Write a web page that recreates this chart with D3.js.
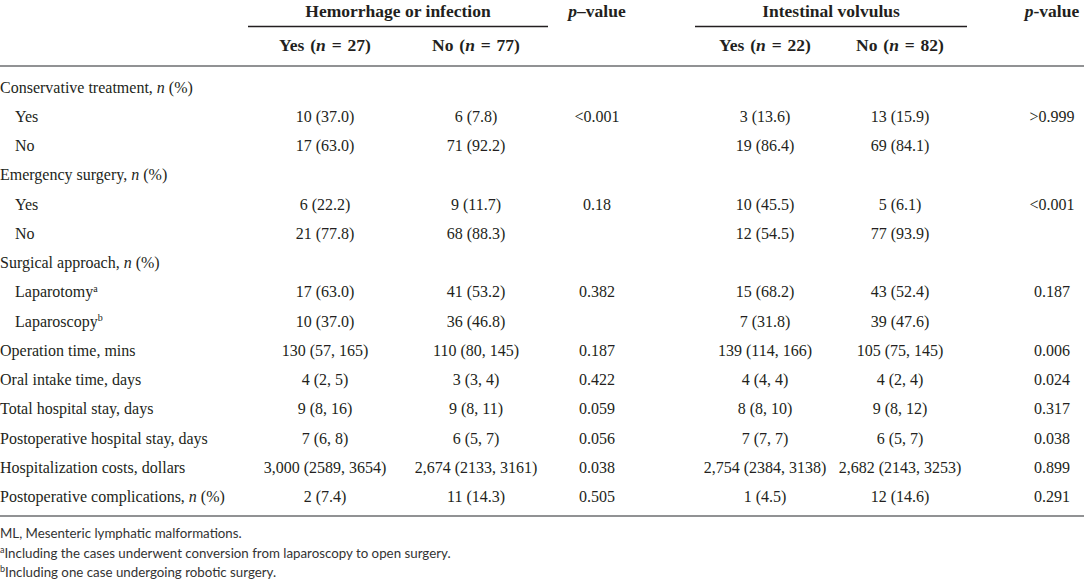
<!DOCTYPE html>
<html lang="en">
<head>
    <meta charset="UTF-8">
    <title>ML complications table</title>
    <script src="https://d3js.org/d3.v7.min.js"></script>
    <style>
        body {
            margin: 0;
            padding: 0;
            background-color: #fff;
        }
        svg text {
            fill: #231f20;
        }
        .cell {
            font-family: "Liberation Serif", "Times New Roman", serif;
            font-size: 16px;
        }
        .head {
            font-family: "Liberation Serif", "Times New Roman", serif;
            font-size: 17.5px;
            font-weight: bold;
        }
        .note {
            font-family: Lato, "Open Sans", sans-serif;
            font-size: 13.3px;
            fill: #333;
        }
    </style>
</head>
<body>
    <svg id="table" width="1084" height="584"></svg>

    <script>
        // row labels ("n" in the labels is set in italics when drawn)
        const rowLabels = [
            "Conservative treatment, n (%)", "Yes", "No",
            "Emergency surgery, n (%)", "Yes", "No",
            "Surgical approach, n (%)", "Laparotomy", "Laparoscopy",
            "Operation time, mins", "Oral intake time, days",
            "Total hospital stay, days", "Postoperative hospital stay, days",
            "Hospitalization costs, dollars", "Postoperative complications, n (%)"
        ];
        const rowIndent = [0, 1, 1, 0, 1, 1, 0, 1, 1, 0, 0, 0, 0, 0, 0];
        const rowSup = ["", "", "", "", "", "", "", "a", "b", "", "", "", "", "", ""];

        const hemYes = ["", "10 (37.0)", "17 (63.0)", "", "6 (22.2)", "21 (77.8)", "", "17 (63.0)", "10 (37.0)",
            "130 (57, 165)", "4 (2, 5)", "9 (8, 16)", "7 (6, 8)", "3,000 (2589, 3654)", "2 (7.4)"];
        const hemNo = ["", "6 (7.8)", "71 (92.2)", "", "9 (11.7)", "68 (88.3)", "", "41 (53.2)", "36 (46.8)",
            "110 (80, 145)", "3 (3, 4)", "9 (8, 11)", "6 (5, 7)", "2,674 (2133, 3161)", "11 (14.3)"];
        const hemP = ["", "<0.001", "", "", "0.18", "", "", "0.382", "",
            "0.187", "0.422", "0.059", "0.056", "0.038", "0.505"];
        const volYes = ["", "3 (13.6)", "19 (86.4)", "", "10 (45.5)", "12 (54.5)", "", "15 (68.2)", "7 (31.8)",
            "139 (114, 166)", "4 (4, 4)", "8 (8, 10)", "7 (7, 7)", "2,754 (2384, 3138)", "1 (4.5)"];
        const volNo = ["", "13 (15.9)", "69 (84.1)", "", "5 (6.1)", "77 (93.9)", "", "43 (52.4)", "39 (47.6)",
            "105 (75, 145)", "4 (2, 4)", "9 (8, 12)", "6 (5, 7)", "2,682 (2143, 3253)", "12 (14.6)"];
        const volP = ["", ">0.999", "", "", "<0.001", "", "", "0.187", "",
            "0.006", "0.024", "0.317", "0.038", "0.899", "0.291"];

        const groupHeads = ["Hemorrhage or infection", "Intestinal volvulus"];
        const pHeads = ["\u2013value", "-value"];
        const subHeads = [["Yes", "27"], ["No", "77"], ["Yes", "22"], ["No", "82"]];
        const footnotes = [
            ["", "ML, Mesenteric lymphatic malformations."],
            ["a", "Including the cases underwent conversion from laparoscopy to open surgery."],
            ["b", "Including one case undergoing robotic surgery."]
        ];

        const svg = d3.select("#table");
        const width = +svg.attr("width");

        const columns = ["hemYes", "hemNo", "hemP", "volYes", "volNo", "volP"];
        const colData = { hemYes, hemNo, hemP, volYes, volNo, volP };
        const x = d3.scaleOrdinal().domain(columns).range([325, 476, 597, 765, 900, 1052]);
        const y = d3.scalePoint().domain(d3.range(rowLabels.length)).range([87, 496.5]);

        // group spans for the header underline
        const groups = [
            { name: groupHeads[0], x0: 248, x1: 548 },
            { name: groupHeads[1], x0: 695, x1: 967 }
        ];

        svg.selectAll(".grp")
            .data(groups)
            .enter()
            .append("text")
            .attr("class", "head")
            .attr("x", (d) => (d.x0 + d.x1) / 2)
            .attr("y", 11)
            .attr("dy", "0.35em")
            .attr("text-anchor", "middle")
            .text((d) => d.name);

        svg.selectAll(".grpline")
            .data(groups)
            .enter()
            .append("line")
            .attr("x1", (d) => d.x0)
            .attr("x2", (d) => d.x1)
            .attr("y1", 26.5)
            .attr("y2", 26.5)
            .attr("stroke", "#231f20")
            .attr("stroke-width", 1.4);

        // p-value headers
        ["hemP", "volP"].forEach((c, i) => {
            const t = svg.append("text")
                .attr("class", "head")
                .attr("x", x(c))
                .attr("y", 11)
                .attr("dy", "0.35em")
                .attr("text-anchor", "middle");
            t.append("tspan").attr("font-style", "italic").text("p");
            t.append("tspan").text(pHeads[i]);
        });

        // sub headers: Yes (n = 27) ...
        const subCols = ["hemYes", "hemNo", "volYes", "volNo"];
        subHeads.forEach((s, i) => {
            const t = svg.append("text")
                .attr("class", "head")
                .attr("x", x(subCols[i]))
                .attr("y", 45)
                .attr("dy", "0.35em")
                .attr("text-anchor", "middle")
                .attr("word-spacing", "1.5px");
            t.append("tspan").text(s[0] + " (");
            t.append("tspan").attr("font-style", "italic").text("n");
            t.append("tspan").text(" = " + s[1] + ")");
        });

        // rules
        [[66, 1.6], [516, 1.6]].forEach(([yy, w]) => {
            svg.append("line")
                .attr("x1", 0).attr("x2", width)
                .attr("y1", yy).attr("y2", yy)
                .attr("stroke", "#6d6e71")
                .attr("stroke-width", w);
        });

        // row labels
        const labels = svg.selectAll(".label")
            .data(rowLabels)
            .enter()
            .append("text")
            .attr("class", "cell")
            .attr("x", (d, i) => (rowIndent[i] ? 15 : 0))
            .attr("y", (d, i) => y(i))
            .attr("dy", "0.35em");

        labels.each(function (d, i) {
            const t = d3.select(this);
            const k = d.indexOf(", n (");
            if (k >= 0) {
                t.append("tspan").text(d.slice(0, k + 2));
                t.append("tspan").attr("font-style", "italic").text("n");
                t.append("tspan").text(d.slice(k + 3));
            } else {
                t.append("tspan").text(d);
            }
            if (rowSup[i]) {
                t.append("tspan")
                    .attr("font-size", "10px")
                    .attr("dy", "-0.55em")
                    .text(rowSup[i]);
            }
        });

        // cell values
        columns.forEach((c) => {
            svg.selectAll(".v-" + c)
                .data(colData[c])
                .enter()
                .append("text")
                .attr("class", "cell")
                .attr("x", x(c))
                .attr("y", (d, i) => y(i))
                .attr("dy", "0.35em")
                .attr("text-anchor", "middle")
                .text((d) => d);
        });

        // footnotes
        const fy = d3.scalePoint().domain(d3.range(footnotes.length)).range([538, 577]);
        const notes = svg.selectAll(".fn")
            .data(footnotes)
            .enter()
            .append("text")
            .attr("class", "note")
            .attr("x", 0)
            .attr("y", (d, i) => fy(i));

        notes.each(function (d) {
            const t = d3.select(this);
            if (d[0]) {
                t.append("tspan").attr("font-size", "9px").attr("dy", -5).text(d[0]);
                t.append("tspan").attr("dy", 5).text(d[1]);
            } else {
                t.append("tspan").text(d[1]);
            }
        });
    </script>
</body>
</html>
